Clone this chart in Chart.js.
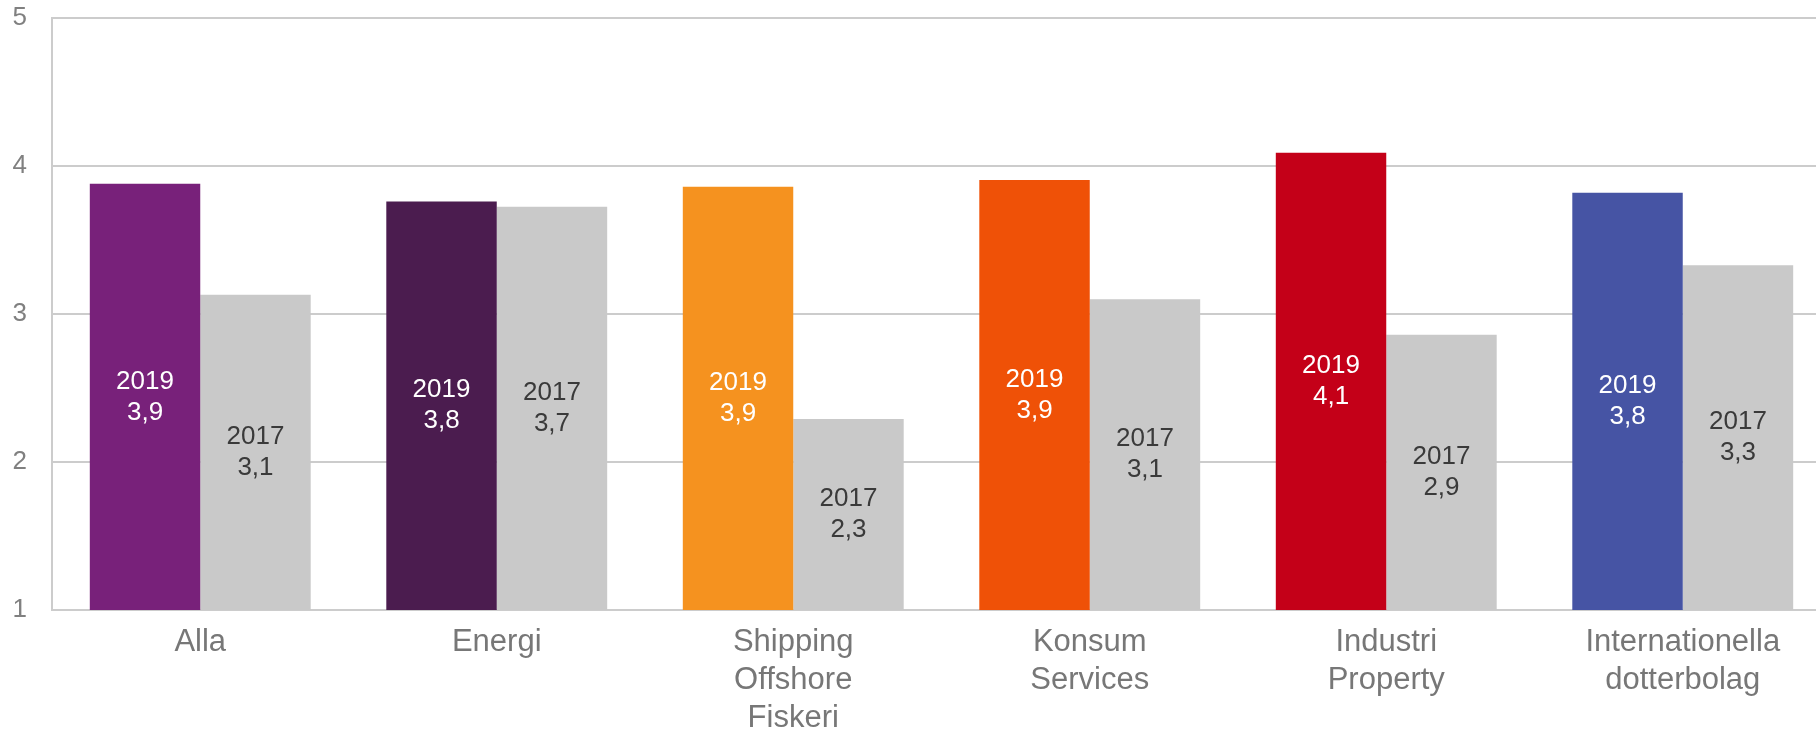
<!DOCTYPE html>
<html>
<head>
<meta charset="utf-8">
<script src="https://cdn.jsdelivr.net/npm/chart.js@4"></script>
<style>
  html, body { margin: 0; padding: 0; background: #ffffff; overflow: hidden; }
  #wrap { position: relative; width: 1831px; height: 731px; }
</style>
</head>
<body>
<div id="wrap"><canvas id="c"></canvas></div>
<script>
const categories = [
  ['Alla'],
  ['Energi'],
  ['Shipping', 'Offshore', 'Fiskeri'],
  ['Konsum', 'Services'],
  ['Industri', 'Property'],
  ['Internationella', 'dotterbolag']
];
const values2019 = [3.88, 3.76, 3.86, 3.905, 4.09, 3.82];
const values2017 = [3.13, 3.725, 2.29, 3.10, 2.86, 3.33];
const colors2019 = ['#78217a', '#4b1c4f', '#f5921f', '#ef5107', '#c40018', '#4654a4'];
const color2017 = '#c9c9c9';
const seriesNames = ['2019', '2017'];
const yTicks = [1, 2, 3, 4, 5];

const FONT = '"Liberation Sans", Arial, sans-serif';

const barLabels = {
  id: 'barLabels',
  afterDatasetsDraw(chart) {
    const ctx = chart.ctx;
    const bottom = chart.chartArea.bottom;
    ctx.save();
    ctx.font = '26px ' + FONT;
    ctx.textAlign = 'center';
    ctx.textBaseline = 'middle';
    chart.data.datasets.forEach((ds, di) => {
      const meta = chart.getDatasetMeta(di);
      meta.data.forEach((bar, i) => {
        const v = ds.data[i];
        const txt = v.toFixed(1).replace('.', ',');
        const yBot = Math.min(bar.base, bottom);
        const mid = (bar.y + yBot) / 2;
        ctx.fillStyle = di === 0 ? '#ffffff' : '#3a3a3a';
        ctx.fillText(ds.label, bar.x, mid - 15.5);
        ctx.fillText(txt, bar.x, mid + 15.5);
      });
    });
    ctx.restore();
  }
};

new Chart(document.getElementById('c'), {
  type: 'bar',
  data: {
    labels: categories,
    datasets: [
      { label: seriesNames[0], data: values2019, backgroundColor: colors2019, borderWidth: 0 },
      { label: seriesNames[1], data: values2017, backgroundColor: color2017, borderWidth: 0 }
    ]
  },
  options: {
    responsive: true,
    maintainAspectRatio: false,
    animation: false,
    events: [],
    layout: { padding: { top: 18, right: 0, left: 0, bottom: 0 } },
    datasets: { bar: { barPercentage: 1.0, categoryPercentage: 0.745 } },
    plugins: { legend: { display: false }, tooltip: { enabled: false } },
    scales: {
      x: {
        grid: { display: false, drawTicks: false },
        border: { display: true, color: '#cccccc', width: 2 },
        ticks: {
          color: '#777777',
          font: { family: FONT, size: 31, lineHeight: 1.22 },
          padding: 14,
          maxRotation: 0,
          autoSkip: false
        },
        afterFit(scale) { scale.height = 121; scale.paddingLeft = 0; scale.paddingRight = 0; }
      },
      y: {
        min: 1,
        max: 5,
        afterBuildTicks(scale) { scale.ticks = yTicks.map(v => ({ value: v })); },
        grid: { color: '#cccccc', lineWidth: 2, drawTicks: false },
        border: { display: true, color: '#cccccc', width: 2 },
        ticks: {
          color: '#808080',
          font: { family: FONT, size: 26 },
          padding: 25
        },
        afterFit(scale) { scale.width = 52; scale.paddingTop = 0; scale.paddingBottom = 0; }
      }
    }
  },
  plugins: [barLabels]
});
</script>
</body>
</html>
